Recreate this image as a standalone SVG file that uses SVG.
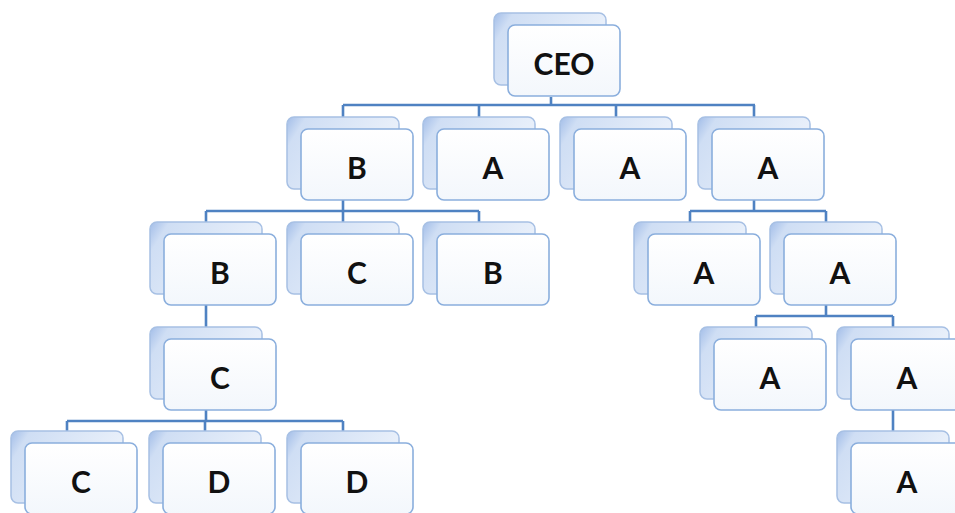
<svg xmlns="http://www.w3.org/2000/svg" width="955" height="513" viewBox="0 0 955 513">
<defs>
<linearGradient id="backG" x1="0" y1="0" x2="1" y2="0.4">
<stop offset="0" stop-color="#a2bde8"/>
<stop offset="0.15" stop-color="#cfdef4"/>
<stop offset="1" stop-color="#ecf2fb"/>
</linearGradient>
<linearGradient id="frontG" x1="0" y1="0" x2="0" y2="1">
<stop offset="0" stop-color="#ffffff"/>
<stop offset="1" stop-color="#f3f7fc"/>
</linearGradient>
<g id="node">
<rect class="back" x="-14" y="-12" width="112" height="72" rx="7"/>
<rect class="front" x="0" y="0" width="112" height="71" rx="7"/>
</g>
</defs>
<style>
.back{fill:url(#backG);stroke:#a7c0e4;stroke-width:1.5}
.front{fill:url(#frontG);stroke:#8aaedd;stroke-width:1.6}
.lbl{font-family:Lato,"Open Sans","Liberation Sans",sans-serif;font-weight:700;font-size:30px;fill:#111;text-anchor:middle}
.conn{fill:none;stroke:#4f82c2;stroke-width:2.6}
</style>
<rect width="955" height="513" fill="#ffffff"/>
<g id="connectors" class="conn">
<path d="M551 97V105M343 105H755M343 105V118M479 105V118M616 105V118M754 105V118"/>
<path d="M343 200V211M206 211H479M206 211V222M343 211V222M479 211V222"/>
<path d="M754 200V211M690 211H826M690 211V222M826 211V222"/>
<path d="M206 305V327"/>
<path d="M826 305V316M756 316H893M756 316V327M893 316V327"/>
<path d="M206 410V421M67 421H343M67 421V431M205 421V431M343 421V431"/>
<path d="M893 410V431"/>
</g>
<g id="n-ceo"><use href="#node" x="508" y="25"/><text class="lbl" x="564" y="75">CEO</text></g>
<g id="n-l1-b"><use href="#node" x="301" y="129"/><text class="lbl" x="357" y="179">B</text></g>
<g id="n-l1-a1"><use href="#node" x="437" y="129"/><text class="lbl" x="493" y="179">A</text></g>
<g id="n-l1-a2"><use href="#node" x="574" y="129"/><text class="lbl" x="630" y="179">A</text></g>
<g id="n-l1-a3"><use href="#node" x="712" y="129"/><text class="lbl" x="768" y="179">A</text></g>
<g id="n-l2-b1"><use href="#node" x="164" y="234"/><text class="lbl" x="220" y="284">B</text></g>
<g id="n-l2-c"><use href="#node" x="301" y="234"/><text class="lbl" x="357" y="284">C</text></g>
<g id="n-l2-b2"><use href="#node" x="437" y="234"/><text class="lbl" x="493" y="284">B</text></g>
<g id="n-l2-a1"><use href="#node" x="648" y="234"/><text class="lbl" x="704" y="284">A</text></g>
<g id="n-l2-a2"><use href="#node" x="784" y="234"/><text class="lbl" x="840" y="284">A</text></g>
<g id="n-l3-c"><use href="#node" x="164" y="339"/><text class="lbl" x="220" y="389">C</text></g>
<g id="n-l3-a1"><use href="#node" x="714" y="339"/><text class="lbl" x="770" y="389">A</text></g>
<g id="n-l3-a2"><use href="#node" x="851" y="339"/><text class="lbl" x="907" y="389">A</text></g>
<g id="n-l4-c"><use href="#node" x="25" y="443"/><text class="lbl" x="81" y="493">C</text></g>
<g id="n-l4-d1"><use href="#node" x="163" y="443"/><text class="lbl" x="219" y="493">D</text></g>
<g id="n-l4-d2"><use href="#node" x="301" y="443"/><text class="lbl" x="357" y="493">D</text></g>
<g id="n-l4-a"><use href="#node" x="851" y="443"/><text class="lbl" x="907" y="493">A</text></g>
</svg>
